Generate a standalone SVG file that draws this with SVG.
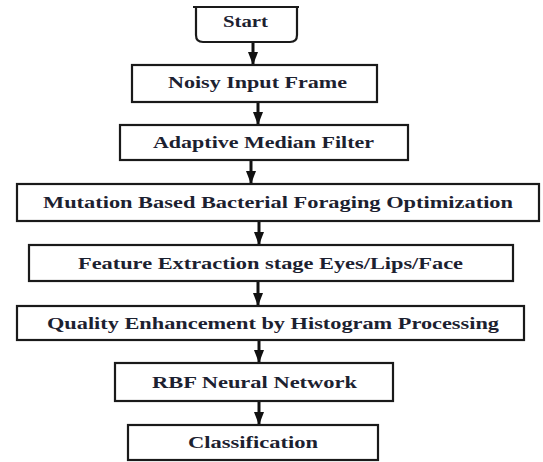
<svg xmlns="http://www.w3.org/2000/svg" width="543" height="462" viewBox="0 0 543 462">
<defs>
<style>
.box{fill:#fff;stroke:#1a1a1a;stroke-width:2.2}
.lbl{font-family:"Liberation Serif",serif;font-weight:700;font-size:17px;fill:#1c2130}
.shaft{stroke:#111;stroke-width:3}
</style>
<marker id="ah" viewBox="0 0 13 10" refX="13" refY="5" markerWidth="13" markerHeight="10" markerUnits="userSpaceOnUse" orient="auto">
<path d="M0,0 L13,5 L0,10 Z" fill="#111"/>
</marker>
</defs>
<rect width="543" height="462" fill="#fff"/>
<g id="connectors">
<line class="shaft" x1="253" y1="42" x2="253" y2="65" marker-end="url(#ah)"/>
<line class="shaft" x1="258" y1="102" x2="258" y2="125" marker-end="url(#ah)"/>
<line class="shaft" x1="251" y1="160" x2="251" y2="184" marker-end="url(#ah)"/>
<line class="shaft" x1="259" y1="221" x2="259" y2="245" marker-end="url(#ah)"/>
<line class="shaft" x1="258" y1="281" x2="258" y2="306" marker-end="url(#ah)"/>
<line class="shaft" x1="259" y1="340" x2="259" y2="363" marker-end="url(#ah)"/>
<line class="shaft" x1="259" y1="401" x2="259" y2="425" marker-end="url(#ah)"/>
</g>
<g id="start">
<path d="M196,7 V35 Q196,42 203,42 H290 Q297,42 297,35 V7" fill="#fff" stroke="#1a1a1a" stroke-width="2.2"/>
<line x1="193" y1="7" x2="299" y2="7" stroke="#1a1a1a" stroke-width="2.2"/>
<text class="lbl" x="223" y="27" font-size="15" textLength="45" lengthAdjust="spacingAndGlyphs">Start</text>
</g>
<g id="noisy">
<rect class="box" x="132" y="65" width="245" height="37"/>
<text class="lbl" x="168" y="88" textLength="179" lengthAdjust="spacingAndGlyphs">Noisy Input Frame</text>
</g>
<g id="adaptive">
<rect class="box" x="120" y="125" width="288" height="35"/>
<text class="lbl" x="153" y="148" textLength="221" lengthAdjust="spacingAndGlyphs">Adaptive Median Filter</text>
</g>
<g id="mbfo">
<rect class="box" x="17" y="184" width="522" height="37"/>
<text class="lbl" x="43" y="208" textLength="470" lengthAdjust="spacingAndGlyphs">Mutation Based Bacterial Foraging Optimization</text>
</g>
<g id="feature">
<rect class="box" x="29" y="245" width="484" height="36"/>
<text class="lbl" x="78" y="269" textLength="385" lengthAdjust="spacingAndGlyphs">Feature Extraction stage Eyes/Lips/Face</text>
</g>
<g id="quality">
<rect class="box" x="17" y="306" width="507" height="34"/>
<text class="lbl" x="47" y="329" textLength="452" lengthAdjust="spacingAndGlyphs">Quality Enhancement by Histogram Processing</text>
</g>
<g id="rbf">
<rect class="box" x="115" y="363" width="278" height="38"/>
<text class="lbl" x="152" y="388" textLength="205" lengthAdjust="spacingAndGlyphs">RBF Neural Network</text>
</g>
<g id="classification">
<rect class="box" x="128" y="425" width="250" height="35"/>
<text class="lbl" x="188" y="448" textLength="130" lengthAdjust="spacingAndGlyphs">Classification</text>
</g>
</svg>
